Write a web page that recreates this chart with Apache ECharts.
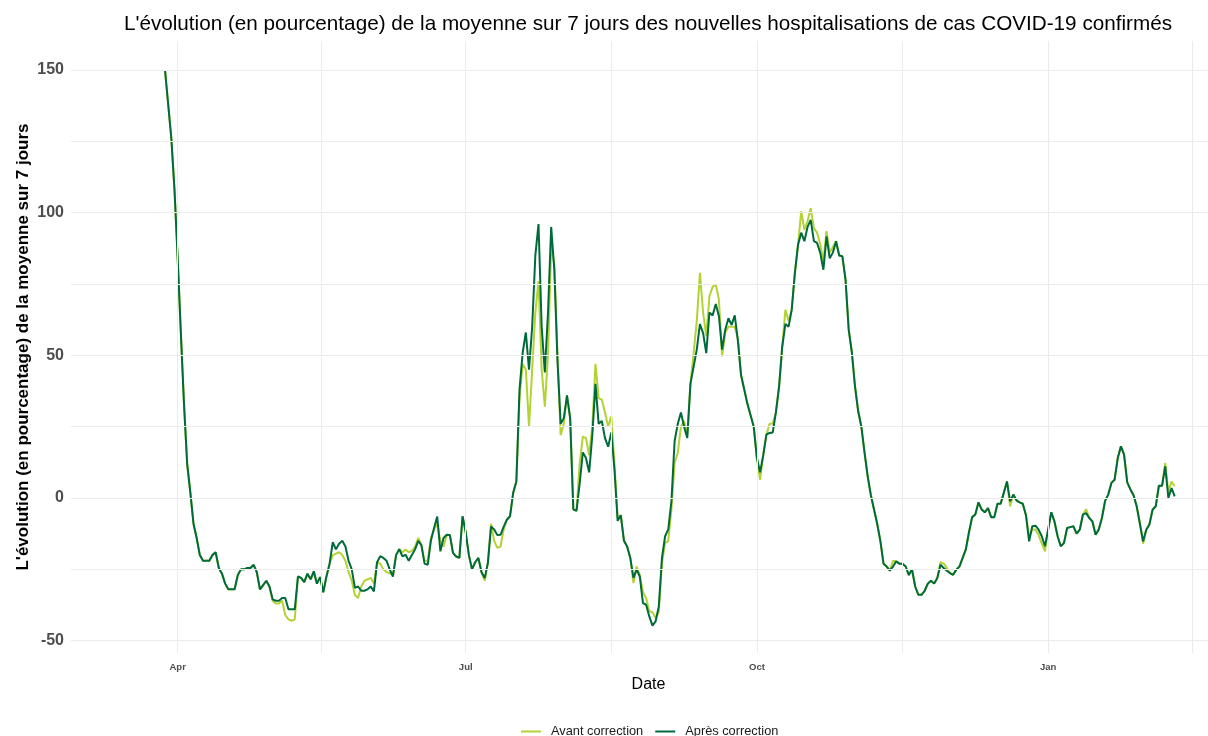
<!DOCTYPE html>
<html>
<head>
<meta charset="utf-8">
<script src="https://cdn.jsdelivr.net/npm/echarts@6/dist/echarts.min.js"></script>
<style>html,body{margin:0;padding:0;background:#fff}#chart{width:1208px;height:736px}</style>
</head>
<body>
<div id="chart"></div>
<script>
// First day of the series (one value per day)
const startDate = '2020-03-28';

// "Après correction" (dark green), daily values
const apres = [
  150, 138, 126, 108, 84, 58, 33, 12, 2, -9,
  -14, -20, -22, -22, -22, -20, -19, -24.5, -26.5, -30,
  -32, -32, -32, -27, -25, -25, -24.5, -24.5, -23.4, -26,
  -32, -30.5, -29, -31, -35.5, -36, -36, -35, -35, -39,
  -39, -39, -27.5, -28, -29.5, -26.5, -28.5, -25.7, -30, -27.7,
  -33, -27.5, -23, -15.5, -18, -16, -15, -17, -22, -25,
  -31.5, -31, -32.5, -32.5, -32, -31, -32.7, -22.5, -20.4, -21,
  -22, -25, -27.5, -20, -17.9, -20.4, -19.9, -22, -20, -18,
  -15, -16.5, -23, -23.4, -15, -10.5, -6.5, -18.7, -14, -12.9,
  -13, -19.3, -20.5, -21, -6.4, -12, -20, -25, -22.5, -21,
  -26, -28, -22.8, -10, -11, -13, -12.9, -10, -7.6, -6.4,
  1.8, 5.8, 38, 51, 58, 45, 60, 85, 96, 60,
  44, 65, 95, 80, 48, 26, 28, 36, 28, -4,
  -4.5, 5, 16, 14, 9, 22, 40, 26, 27, 21,
  18, 23, 10, -8, -6, -15, -17, -21, -28, -25,
  -27.5, -36.8, -37.4, -41.5, -44.7, -43.2, -38, -21, -13.4, -11,
  -1, 20, 26, 30, 25, 21, 40, 46, 52, 61,
  57.8, 50.8, 65, 64, 68, 63.7, 52, 59, 63, 60.7,
  64, 55, 43, 38, 33, 29, 25, 14, 9, 15,
  22.2, 22.8, 23, 30, 39, 53, 61, 60, 66, 79,
  88.8, 93, 90, 95, 97.5, 90, 89.4, 86, 80, 91.7,
  84, 86, 90, 85, 84.7, 76.5, 59, 51, 39, 30.4,
  25, 16, 7.6, 1, -4, -9, -15, -23, -24, -25.4,
  -24, -22.2, -23, -23, -24, -27, -25, -31, -33.9, -33.9,
  -32.5, -30, -29, -30, -28, -23.4, -24.5, -25.5, -26.3, -26.9,
  -25.1, -24, -21, -18, -12, -6.7, -5.8, -1.5, -4, -5,
  -3.5, -6.7, -6.7, -2, -2, 1.8, 5.8, -1.2, 1.2, -0.8,
  -1.5, -2, -6, -15.2, -9.9, -9.7, -11.1, -13.4, -16.9, -11.1,
  -5, -8.2, -13.4, -16.9, -15.8, -10.5, -10.2, -9.9, -12.5, -11.1,
  -5.8, -5.3, -7, -8.2, -12.9, -11, -7, -1, 1.2, 5.3,
  6.4, 14, 18.1, 15.2, 5.5, 3, 1, -3, -9, -15.2,
  -11.1, -9.3, -4.1, -2.9, 4.3, 4.3, 11.1, 0, 3.5, 0.6
];

// "Avant correction" (light green), daily values
const avant = [
  150, 138, 126, 108, 84, 58, 33, 12, 2, -9,
  -14, -20, -22, -22, -22, -20, -19, -24.5, -26.5, -30,
  -32, -32, -32, -27, -25, -25, -24.5, -24.5, -23.4, -26,
  -32, -30.5, -29, -31, -36, -37, -37, -36, -41, -42.5,
  -43, -42.5, -27.5, -28, -29.5, -26.5, -28.5, -25.7, -30, -27.7,
  -33, -27.5, -23, -20, -19.5, -19, -20, -22, -26, -29,
  -34, -35, -31, -29, -28.5, -28, -30, -22.5, -23, -25,
  -26, -26.3, -27, -20, -17.9, -19, -18, -19, -18.5, -17,
  -14, -16.5, -22, -22, -14, -11, -9, -15, -17, -13,
  -13, -19.3, -20.5, -21, -6.4, -12, -20, -25, -22.5, -21,
  -26, -29, -22.8, -9, -15, -17.5, -17, -11, -7.6, -6.4,
  1.8, 5.8, 35, 47, 45, 25, 45, 65, 76, 45,
  32, 50, 88, 82, 50, 22, 26, 36, 28, -4,
  -4.5, 12, 21.5, 21, 15, 25, 47, 35, 34.5, 30,
  25, 28.6, 12, -7, -6, -15, -17, -21, -29.8, -24,
  -27, -33, -35, -39.7, -40, -42, -40, -23, -15.8, -15,
  -4, 12.3, 15.8, 25, 27, 22, 40, 50.8, 62, 78.9,
  65, 56.7, 70.7, 74, 74.8, 69.5, 49.6, 58, 60, 60,
  60, 56, 43, 38, 33, 29, 25, 14, 6.4, 15,
  22.2, 26, 26, 30, 39, 53, 66, 62, 66, 79,
  88.8, 100.5, 94, 97, 101.6, 94.6, 93, 89, 83, 93.5,
  86, 88, 90, 85, 84.7, 76.5, 59, 51, 39, 30.4,
  25, 16, 7.6, 1, -4, -9, -15, -23, -24, -25.4,
  -22, -22.2, -23, -23, -24, -27, -25, -31, -33.9, -33.9,
  -32.5, -30, -29, -30, -28, -22.5, -23, -24.5, -26.3, -26.9,
  -25.1, -24, -21, -18, -12, -6.7, -5.8, -1.5, -4, -5,
  -3.5, -6.7, -6.7, -2, -2, 1.8, 5.8, -2.9, 1.2, -0.8,
  -1.5, -2, -6, -13.5, -11, -11, -13, -16, -18.7, -11.1,
  -5, -8.2, -13.4, -16.9, -15.8, -10.5, -10.2, -9.9, -12.5, -11.1,
  -5.8, -3.9, -7, -8.2, -12.9, -11, -7, -1, 1.2, 5.3,
  6.4, 14, 18.1, 15.2, 5.5, 3, 1, -3, -9, -16,
  -11.1, -9.3, -4.1, -2.9, 4.3, 4.3, 12.3, 2, 5.8, 4.1
];

// Axis ticks / labels
const xTickDates = ['2020-04-01', '2020-07-01', '2020-10-01', '2021-01-01'];
const xTickLabels = ['Apr', 'Jul', 'Oct', 'Jan'];
const xMinorDates = ['2020-05-16', '2020-08-16', '2020-11-16', '2021-02-15'];
const xRangeDays = [-33.7, 331.2]; // axis extent in days relative to 2020-04-01
const yMajorTicks = [-50, 0, 50, 100, 150];
const yMinorTicks = [-25, 25, 75, 125];
const yRange = [-54.31, 160.16];

const DAY = 86400000;
function ts(s, addDays) {
  const p = s.split('-').map(Number);
  return Date.UTC(p[0], p[1] - 1, p[2] + (addDays || 0));
}
const dates = apres.map((_, i) => ts(startDate, i));
const xTickTs = xTickDates.map(d => ts(d));
const xMinorTs = xMinorDates.map((d, i) => ts(d) + (i === 0 || i === 3 ? DAY / 2 : 0));
const apr1 = ts('2020-04-01');

const font = 'Liberation Sans, Arial, sans-serif';
const gridColor = '#ebebeb';

const chart = echarts.init(document.getElementById('chart'), null, { renderer: 'canvas' });
chart.setOption({
  animation: false,
  backgroundColor: '#ffffff',
  textStyle: { fontFamily: font },
  title: {
    text: "L'évolution (en pourcentage) de la moyenne sur 7 jours des nouvelles hospitalisations de cas COVID-19 confirmés",
    left: 643, top: 9, textAlign: 'center',
    textStyle: { fontFamily: font, fontSize: 20.7, fontWeight: 'normal', color: '#000' }
  },
  legend: {
    data: ['Avant correction', 'Après correction'],
    left: 516, top: 720,
    icon: 'rect', itemWidth: 20, itemHeight: 2, itemGap: 12,
    textStyle: { fontFamily: font, fontSize: 12.8, color: '#1a1a1a', padding: [0, 0, 0, 5] }
  },
  grid: { left: 71, top: 41, width: 1155, height: 612, containLabel: false, outerBoundsMode: 'none' },
  xAxis: {
    type: 'value',
    min: apr1 + xRangeDays[0] * DAY,
    max: apr1 + xRangeDays[1] * DAY,
    name: 'Date', nameLocation: 'middle', nameGap: 24, nameMoveOverlap: false,
    nameTextStyle: { fontFamily: font, fontSize: 16, color: '#000' },
    axisLine: { show: false }, axisTick: { show: false },
    splitLine: { show: false },
    axisLabel: {
      customValues: xTickTs,
      formatter: v => { const i = xTickTs.indexOf(v); return i >= 0 ? xTickLabels[i] : ''; },
      fontFamily: font, fontSize: 9.5, fontWeight: 'bold', color: '#4d4d4d', margin: 9
    }
  },
  yAxis: {
    type: 'value', min: yRange[0], max: yRange[1],
    name: "L'évolution (en pourcentage) de la moyenne sur 7 jours",
    nameLocation: 'middle', nameGap: 39, nameMoveOverlap: false,
    nameTextStyle: { fontFamily: font, fontSize: 17, fontWeight: 'bold', color: '#000' },
    axisLine: { show: false }, axisTick: { show: false },
    splitLine: { show: false },
    axisLabel: {
      customValues: yMajorTicks,
      fontFamily: font, fontSize: 16, fontWeight: 'bold', color: '#4d4d4d', margin: 7
    }
  },
  series: [
    {
      name: 'grid', type: 'line', data: [], z: 0, silent: true,
      markLine: {
        silent: true, symbol: ['none', 'none'], animation: false,
        label: { show: false },
        lineStyle: { color: gridColor, width: 1, type: 'solid' },
        emphasis: { disabled: true },
        data: [
          ...xTickTs.map(t => ({ xAxis: t })),
          ...xMinorTs.map(t => ({ xAxis: t })),
          ...yMajorTicks.map(v => ({ yAxis: v })),
          ...yMinorTicks.map(v => ({ yAxis: v }))
        ]
      }
    },
    {
      name: 'Avant correction', type: 'line', z: 2,
      data: dates.map((t, i) => [t, avant[i]]),
      showSymbol: false, symbol: 'none',
      lineStyle: { color: '#b3d234', width: 2 }, itemStyle: { color: '#b3d234' }
    },
    {
      name: 'Après correction', type: 'line', z: 3,
      data: dates.map((t, i) => [t, apres[i]]),
      showSymbol: false, symbol: 'none',
      lineStyle: { color: '#006b3a', width: 2 }, itemStyle: { color: '#006b3a' }
    }
  ]
});
</script>
</body>
</html>
